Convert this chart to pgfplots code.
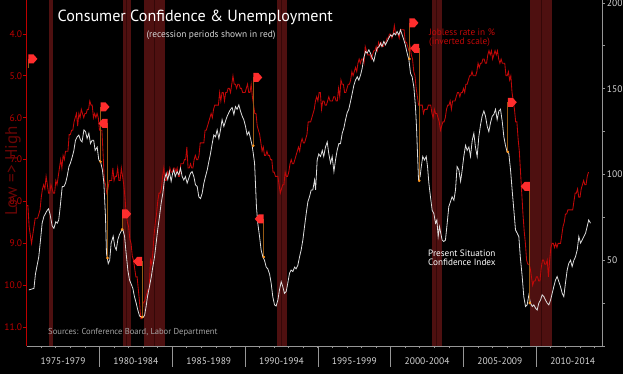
\documentclass[border=0pt]{standalone}
\usepackage{fontspec}
\setmainfont{PT Sans}
\usepackage{pgfplots}
\usepackage{pgfplotstable}
\pgfplotsset{compat=1.18}
\definecolor{linered}{RGB}{195,8,8}
\definecolor{axred}{RGB}{190,0,0}
\definecolor{lblred}{RGB}{105,6,6}
\definecolor{wline}{RGB}{222,222,222}
\definecolor{bandcol}{RGB}{78,16,16}
\definecolor{banddk}{RGB}{52,8,8}
\definecolor{axgray}{RGB}{150,150,150}
\definecolor{tkgray}{RGB}{215,215,215}
\definecolor{flagred}{RGB}{255,45,45}
\definecolor{polecol}{RGB}{150,90,20}
\definecolor{dotor}{RGB}{255,150,30}
\pgfdeclareplotmark{flagR}{\pgfpathmoveto{\pgfqpoint{0pt}{-4.5pt}}\pgfpathlineto{\pgfqpoint{0pt}{4.5pt}}\pgfpathlineto{\pgfqpoint{5pt}{4.5pt}}\pgfpathlineto{\pgfqpoint{9pt}{0pt}}\pgfpathlineto{\pgfqpoint{5pt}{-4.5pt}}\pgfpathclose\pgfusepathqfill}
\pgfdeclareplotmark{flagL}{\pgfpathmoveto{\pgfqpoint{0pt}{-4.5pt}}\pgfpathlineto{\pgfqpoint{0pt}{4.5pt}}\pgfpathlineto{\pgfqpoint{-5pt}{4.5pt}}\pgfpathlineto{\pgfqpoint{-9pt}{0pt}}\pgfpathlineto{\pgfqpoint{-5pt}{-4.5pt}}\pgfpathclose\pgfusepathqfill}

% US unemployment rate, monthly, Jan 1975 - Aug 2013
\pgfplotstableread[row sep=\\,header=false]{
8.1\\8.1\\8.6\\8.8\\9.0\\8.8\\8.6\\8.4\\8.4\\8.4\\8.3\\8.2\\
7.9\\7.7\\7.6\\7.7\\7.4\\7.6\\7.8\\7.8\\7.6\\7.7\\7.8\\7.8\\
7.5\\7.6\\7.4\\7.2\\7.0\\7.2\\6.9\\7.0\\6.8\\6.8\\6.8\\6.4\\
6.4\\6.3\\6.3\\6.1\\6.0\\5.9\\6.2\\5.9\\6.0\\5.8\\5.9\\6.0\\
5.9\\5.9\\5.8\\5.8\\5.6\\5.7\\5.7\\6.0\\5.9\\6.0\\5.9\\6.0\\
6.3\\6.3\\6.3\\6.9\\7.5\\7.6\\7.8\\7.7\\7.5\\7.5\\7.5\\7.2\\
7.5\\7.4\\7.4\\7.2\\7.5\\7.5\\7.2\\7.4\\7.6\\7.9\\8.3\\8.5\\
8.6\\8.9\\9.0\\9.3\\9.4\\9.6\\9.8\\9.8\\10.1\\10.4\\10.8\\10.8\\
10.4\\10.4\\10.3\\10.2\\10.1\\10.1\\9.4\\9.5\\9.2\\8.8\\8.5\\8.3\\
8.0\\7.8\\7.8\\7.7\\7.4\\7.2\\7.5\\7.5\\7.3\\7.4\\7.2\\7.3\\
7.3\\7.2\\7.2\\7.3\\7.2\\7.4\\7.4\\7.1\\7.1\\7.1\\7.0\\7.0\\
6.7\\7.2\\7.2\\7.1\\7.2\\7.2\\7.0\\6.9\\7.0\\7.0\\6.9\\6.6\\
6.6\\6.6\\6.6\\6.3\\6.3\\6.2\\6.1\\6.0\\5.9\\6.0\\5.8\\5.7\\
5.7\\5.7\\5.7\\5.4\\5.6\\5.4\\5.4\\5.6\\5.4\\5.4\\5.3\\5.3\\
5.4\\5.2\\5.0\\5.2\\5.2\\5.3\\5.2\\5.2\\5.3\\5.3\\5.4\\5.4\\
5.4\\5.3\\5.2\\5.4\\5.4\\5.2\\5.5\\5.7\\5.9\\5.9\\6.2\\6.3\\
6.4\\6.6\\6.8\\6.7\\6.9\\6.9\\6.8\\6.9\\6.9\\7.0\\7.0\\7.3\\
7.3\\7.4\\7.4\\7.4\\7.6\\7.8\\7.7\\7.6\\7.6\\7.3\\7.4\\7.4\\
7.3\\7.1\\7.0\\7.1\\7.1\\7.0\\6.9\\6.8\\6.7\\6.8\\6.6\\6.5\\
6.6\\6.6\\6.5\\6.4\\6.1\\6.1\\6.1\\6.0\\5.9\\5.8\\5.6\\5.5\\
5.6\\5.4\\5.4\\5.8\\5.6\\5.6\\5.7\\5.7\\5.6\\5.5\\5.6\\5.6\\
5.6\\5.5\\5.5\\5.6\\5.6\\5.3\\5.5\\5.1\\5.2\\5.2\\5.4\\5.4\\
5.3\\5.2\\5.2\\5.1\\4.9\\5.0\\4.9\\4.8\\4.9\\4.7\\4.6\\4.7\\
4.6\\4.6\\4.7\\4.3\\4.4\\4.5\\4.5\\4.5\\4.6\\4.5\\4.4\\4.4\\
4.3\\4.4\\4.2\\4.3\\4.2\\4.3\\4.3\\4.2\\4.2\\4.1\\4.1\\4.0\\
4.0\\4.1\\4.0\\3.8\\4.0\\4.0\\4.0\\4.1\\3.9\\3.9\\3.9\\3.9\\
4.2\\4.2\\4.3\\4.4\\4.3\\4.5\\4.6\\4.9\\5.0\\5.3\\5.5\\5.7\\
5.7\\5.7\\5.7\\5.9\\5.8\\5.8\\5.8\\5.7\\5.7\\5.7\\5.9\\6.0\\
5.8\\5.9\\5.9\\6.0\\6.1\\6.3\\6.2\\6.1\\6.1\\6.0\\5.8\\5.7\\
5.7\\5.6\\5.8\\5.6\\5.6\\5.6\\5.5\\5.4\\5.4\\5.5\\5.4\\5.4\\
5.3\\5.4\\5.2\\5.2\\5.1\\5.0\\5.0\\4.9\\5.0\\5.0\\5.0\\4.9\\
4.7\\4.8\\4.7\\4.7\\4.6\\4.6\\4.7\\4.7\\4.5\\4.4\\4.5\\4.4\\
4.6\\4.5\\4.4\\4.5\\4.4\\4.6\\4.7\\4.6\\4.7\\4.7\\4.7\\5.0\\
5.0\\4.9\\5.1\\5.0\\5.4\\5.6\\5.8\\6.1\\6.1\\6.5\\6.8\\7.3\\
7.8\\8.3\\8.7\\9.0\\9.4\\9.5\\9.5\\9.6\\9.8\\10.0\\9.9\\9.9\\
9.8\\9.8\\9.9\\9.9\\9.6\\9.4\\9.4\\9.5\\9.5\\9.4\\9.8\\9.4\\
9.1\\9.0\\9.0\\9.1\\9.0\\9.1\\9.0\\9.0\\9.0\\8.8\\8.6\\8.5\\
8.3\\8.3\\8.2\\8.2\\8.2\\8.2\\8.2\\8.0\\7.8\\7.8\\7.7\\7.9\\
7.9\\7.7\\7.6\\7.5\\7.6\\7.6\\7.4\\7.3\\
}\reddata

\begin{document}
\begin{tikzpicture}[x=1pt,y=1pt]
\useasboundingbox (0,0) rectangle (623,374);
\fill[black] (0,0) rectangle (623,374);

% ---------- axis 1: unemployment (left, inverted) ----------
\begin{axis}[
  at={(26.7pt,28pt)}, anchor=south west, scale only axis,
  width=576pt, height=346pt,
  xmin=1975, xmax=2014.56, ymin=3.19, ymax=11.45, y dir=reverse,
  axis x line=none, axis y line=left,
  y axis line style={-, draw=axred, line width=0.8pt},
  ytick={4,5,6,7,8,9,10,11},
  ytick style={draw=axred, line width=0.8pt},
  tick align=outside, major tick length=3.5pt,
  yticklabel style={text=axred, font=\fontsize{9.5}{10}\selectfont, inner sep=1pt},
  /pgf/number format/.cd, fixed, fixed zerofill, precision=1, assume math mode=true,
]
\addplot[fill=bandcol, draw=none, forget plot] coordinates {(1976.53,3.19) (1976.81,3.19) (1976.81,11.45) (1976.53,11.45)} -- cycle;
\addplot[fill=bandcol, draw=none, forget plot] coordinates {(1981.63,3.19) (1982.13,3.19) (1982.13,11.45) (1981.63,11.45)} -- cycle;
\addplot[fill=bandcol, draw=none, forget plot] coordinates {(1983.09,3.19) (1984.47,3.19) (1984.47,11.45) (1983.09,11.45)} -- cycle;
\addplot[fill=bandcol, draw=none, forget plot] coordinates {(1992.16,3.19) (1992.85,3.19) (1992.85,11.45) (1992.16,11.45)} -- cycle;
\addplot[fill=bandcol, draw=none, forget plot] coordinates {(2002.85,3.19) (2003.49,3.19) (2003.49,11.45) (2002.85,11.45)} -- cycle;
\addplot[fill=bandcol, draw=none, forget plot] coordinates {(2009.60,3.19) (2011.09,3.19) (2011.09,11.45) (2009.60,11.45)} -- cycle;
\addplot[banddk, line width=1.2pt, forget plot] coordinates {(1981.88,3.19) (1981.88,11.45)};
\addplot[banddk, line width=1.2pt, forget plot] coordinates {(1983.78,3.19) (1983.78,11.45)};
\addplot[banddk, line width=1.2pt, forget plot] coordinates {(1992.50,3.19) (1992.50,11.45)};
\addplot[banddk, line width=1.2pt, forget plot] coordinates {(2003.17,3.19) (2003.17,11.45)};
\addplot[banddk, line width=1.2pt, forget plot] coordinates {(2010.34,3.19) (2010.34,11.45)};
\addplot[linered, line width=0.85pt] table[x expr=1975+\coordindex/12, y index=0] {\reddata};
\end{axis}

% ---------- axis 2: present situation index (right) ----------
\begin{axis}[
  at={(26.7pt,28pt)}, anchor=south west, scale only axis,
  width=576pt, height=346pt,
  xmin=1975, xmax=2014.56, ymin=0, ymax=201.75,
  axis x line=bottom, axis y line=right,
  axis line style={-, draw=axgray, line width=0.8pt},
  xtick={1976,1977,...,2014}, xticklabels={},
  ytick={50,100,150,200}, minor ytick={0,25,75,125,175},
  tick style={draw=axgray, line width=0.8pt},
  tick align=outside, major tick length=2.5pt, minor tick length=2.5pt,
  yticklabel style={text=tkgray, font=\fontsize{9.5}{10}\selectfont, inner sep=1.5pt},
  /pgf/number format/assume math mode=true,
]
\addplot[wline, line width=0.8pt] coordinates {
(1975.15,32.7) (1975.5,33.6) (1975.6,42) (1975.83,52) (1975.95,62) (1976.06,71.6) (1976.18,75.5) (1976.4,79) (1976.5,80) (1976.6,77) (1976.75,70) (1976.87,68.6)
(1977.0,72.5) (1977.1,71.6) (1977.2,73.5) (1977.3,81) (1977.44,93) (1977.55,93) (1977.67,95) (1977.78,99) (1977.9,104.6)
(1978.0,106.6) (1978.12,110) (1978.24,114) (1978.35,120) (1978.47,122) (1978.58,123) (1978.7,120) (1978.8,119) (1978.93,126)
(1979.04,125) (1979.15,121) (1979.27,124) (1979.38,118) (1979.5,120) (1979.6,120) (1979.7,114) (1979.84,116) (1979.95,108.5)
(1980.07,107.5) (1980.2,102.7) (1980.3,95) (1980.41,75.5) (1980.48,54) (1980.6,48) (1980.7,50) (1980.8,60) (1980.94,64)
(1981.05,58) (1981.15,56) (1981.26,62) (1981.37,65) (1981.49,67) (1981.6,68) (1981.72,64) (1981.83,54) (1981.95,44)
(1982.06,38.5) (1982.2,35.6) (1982.29,33.6) (1982.4,28.8) (1982.52,25) (1982.63,21) (1982.75,17.5) (1982.86,17) (1982.98,16.5)
(1983.1,18) (1983.2,23) (1983.3,29) (1983.43,34.6) (1983.55,40) (1983.66,46) (1983.78,52) (1983.89,60)
(1984.0,68) (1984.12,75.5) (1984.23,83) (1984.35,89) (1984.46,97) (1984.58,100.7) (1984.69,97) (1984.8,101.7) (1984.92,96)
(1985.03,101) (1985.1,102.7) (1985.2,98.8) (1985.33,101.7) (1985.45,99.8) (1985.56,103.7) (1985.68,98.8) (1985.79,96.8) (1985.9,98.8)
(1986.02,95) (1986.13,97.8) (1986.25,100.7) (1986.36,101.7) (1986.48,98.8) (1986.59,94) (1986.71,93) (1986.82,87) (1986.94,86)
(1987.05,89) (1987.17,95) (1987.28,98.8) (1987.4,102.7) (1987.51,107.5) (1987.62,112) (1987.74,118) (1987.85,123) (1987.97,122)
(1988.08,126) (1988.2,121) (1988.31,126) (1988.42,132) (1988.54,128) (1988.65,131) (1988.77,134) (1988.88,136)
(1989.0,138) (1989.11,139) (1989.23,135) (1989.34,139.6) (1989.45,138) (1989.57,140.6) (1989.68,137) (1989.8,134) (1989.91,132)
(1990.03,128) (1990.14,123) (1990.26,125) (1990.37,121) (1990.48,117) (1990.55,113) (1990.65,106.6) (1990.71,95) (1990.78,81) (1990.87,71.6) (1990.99,64)
(1991.1,56) (1991.22,52) (1991.33,50) (1991.45,46) (1991.56,45) (1991.68,42) (1991.79,36.6) (1991.9,28.8)
(1992.02,24) (1992.13,23.3) (1992.25,26.8) (1992.36,32.7) (1992.48,37.5) (1992.59,34.6) (1992.7,30.7) (1992.82,31.7) (1992.93,36.6)
(1993.05,42.4) (1993.16,44.3) (1993.28,43.4) (1993.4,46) (1993.5,45) (1993.62,47) (1993.74,52) (1993.85,56) (1993.97,62)
(1994.08,69.6) (1994.2,77.4) (1994.31,84) (1994.42,87) (1994.54,91) (1994.65,91) (1994.77,96.8) (1994.84,91) (1994.95,108.5)
(1995.06,112) (1995.18,110.5) (1995.3,114) (1995.4,110.5) (1995.52,116) (1995.64,119) (1995.75,112) (1995.87,106.6) (1995.98,110.5)
(1996.1,101.7) (1996.21,108.5) (1996.32,114) (1996.44,118) (1996.55,118) (1996.67,124) (1996.78,127) (1996.9,132)
(1997.01,136) (1997.12,138) (1997.24,142.6) (1997.35,147) (1997.47,152) (1997.58,155) (1997.7,157) (1997.81,155) (1997.93,158)
(1998.04,162) (1998.15,168) (1998.27,171.7) (1998.38,170.7) (1998.5,172.7) (1998.61,170.7) (1998.73,168) (1998.84,166) (1998.96,170.7)
(1999.07,173.7) (1999.2,174.6) (1999.3,176.6) (1999.4,174.6) (1999.53,177.6) (1999.64,175.6) (1999.76,177.6) (1999.87,179.5) (1999.99,181.4)
(2000.1,180.5) (2000.22,182.4) (2000.33,181.4) (2000.44,183.4) (2000.56,181.4) (2000.67,184.3) (2000.79,181.4) (2000.9,178.5)
(2001.0,175.6) (2001.13,170.7) (2001.25,166.9) (2001.36,159) (2001.47,157) (2001.59,151) (2001.7,139.6) (2001.77,128) (2001.84,112.4) (2001.91,97)
(2002.02,98.8) (2002.1,104.6) (2002.2,110.5) (2002.32,108.5) (2002.44,110.5) (2002.53,104.6) (2002.62,95) (2002.73,87) (2002.85,79) (2002.96,77.4)
(2003.08,71.6) (2003.17,73.5) (2003.26,63.8) (2003.35,69.6) (2003.44,65.7) (2003.53,61.8) (2003.65,60.9) (2003.76,61.8) (2003.88,71.6) (2003.99,81.3)
(2004.1,84) (2004.22,87) (2004.34,85) (2004.45,91) (2004.56,104.6) (2004.68,102.7) (2004.8,96) (2004.9,102)
(2005.02,110.5) (2005.14,117) (2005.25,114) (2005.37,116) (2005.48,110.5) (2005.6,120) (2005.71,124) (2005.82,116) (2005.94,110.5)
(2006.05,122) (2006.17,129) (2006.28,134) (2006.4,137) (2006.51,134) (2006.63,128) (2006.74,125) (2006.85,130) (2006.97,134)
(2007.08,135) (2007.2,138) (2007.31,132) (2007.43,137) (2007.54,138) (2007.66,131) (2007.77,122) (2007.88,117)
(2008.0,113) (2008.11,112.4) (2008.23,102.7) (2008.34,91) (2008.46,79) (2008.57,67.7) (2008.69,65.7) (2008.8,63.8) (2008.9,52)
(2009.03,40.5) (2009.14,28.8) (2009.26,23) (2009.37,24) (2009.49,29.8) (2009.6,25) (2009.72,23) (2009.83,24) (2009.95,22)
(2010.06,21) (2010.17,25) (2010.29,26.8) (2010.4,29.8) (2010.52,28.8) (2010.63,26.8) (2010.75,25) (2010.86,24) (2010.98,26.8)
(2011.09,30.7) (2011.2,34.6) (2011.32,38.5) (2011.43,40.5) (2011.55,37.5) (2011.66,34.6) (2011.78,30.7) (2011.89,28.8)
(2012.0,36.6) (2012.12,44.3) (2012.23,48.2) (2012.35,50) (2012.46,46.3) (2012.58,50) (2012.69,52) (2012.81,56) (2012.92,63.8)
(2013.04,60) (2013.15,61.8) (2013.26,63.8) (2013.38,65.7) (2013.49,69.6) (2013.6,73.5) (2013.72,71.6)
};
% annotation flags: poles
\addplot[polecol, line width=0.8pt, forget plot] coordinates {(1975.12,167.4) (1975.12,162.2)};
\addplot[polecol, line width=0.8pt, forget plot] coordinates {(1980.07,139.4) (1980.07,107.4)};
\addplot[polecol, line width=0.8pt, forget plot] coordinates {(1980.55,129.8) (1980.55,51.3)};
\addplot[polecol, line width=0.8pt, forget plot] coordinates {(1981.56,77.0) (1981.56,68)};
\addplot[polecol, line width=0.8pt, forget plot] coordinates {(1982.93,49.3) (1982.93,16.9)};
\addplot[polecol, line width=0.8pt, forget plot] coordinates {(1990.56,156.6) (1990.56,116.7)};
\addplot[polecol, line width=0.8pt, forget plot] coordinates {(1991.28,74.1) (1991.28,51.9)};
\addplot[polecol, line width=0.8pt, forget plot] coordinates {(2001.29,188.4) (2001.29,167.4)};
\addplot[polecol, line width=0.8pt, forget plot] coordinates {(2001.96,173.6) (2001.96,96.3)};
\addplot[polecol, line width=0.8pt, forget plot] coordinates {(2008.04,142.1) (2008.04,113.2)};
\addplot[polecol, line width=0.8pt, forget plot] coordinates {(2009.55,93.1) (2009.55,25.1)};
% end dots
\addplot[only marks, mark=*, mark size=1.1pt, color=dotor, forget plot] coordinates {
(1980.07,107.4) (1980.55,51.3) (1981.56,68) (1982.93,16.9) (1990.56,116.7) (1991.28,51.9) (2001.29,167.4) (2001.96,96.3) (2008.04,113.2) (2009.55,25.1)};
% flags
\addplot[only marks, mark=flagR, color=flagred, forget plot] coordinates {
(1975.12,167.4) (1980.07,139.4) (1981.56,77.0) (1990.56,156.6) (2001.29,188.4) (2008.04,142.1)};
\addplot[only marks, mark=flagL, color=flagred, forget plot] coordinates {
(1980.55,129.8) (1982.93,49.3) (1991.28,74.1) (2001.96,173.6) (2009.55,93.1)};
\end{axis}

% ---------- category separators and labels ----------
\foreach \k in {1,...,7} \draw[axgray, line width=0.8pt] ({26.7+\k*72.8},28) -- ({26.7+\k*72.8},7);
\foreach \lab [count=\k from 0] in {1975-1979,1980-1984,1985-1989,1990-1994,1995-1999,2000-2004,2005-2009,2010-2014}
  \node[text=tkgray, font=\fontsize{9.5}{10}\selectfont, inner sep=0pt] at ({26.7+(\k+0.5)*72.8},13) {\lab};

% ---------- texts ----------
\node[anchor=west, text=white, font=\fontsize{16.1}{17}\selectfont, inner sep=0pt] at (57.5,357) {Consumer Confidence \& Unemployment};
\node[text=tkgray, font=\fontsize{9.4}{10}\selectfont, inner sep=0pt] at (211,339) {(recession periods shown in red)};
\node[anchor=west, text=linered, font=\fontsize{9.3}{10}\selectfont, inner sep=0pt] at (429,342) {Jobless rate in \%};
\node[anchor=west, text=linered, font=\fontsize{9.3}{10}\selectfont, inner sep=0pt] at (429,332) {(inverted scale)};
\node[anchor=west, text=white, font=\fontsize{9.2}{10}\selectfont, inner sep=0pt] at (428,121) {Present Situation};
\node[anchor=west, text=white, font=\fontsize{9.2}{10}\selectfont, inner sep=0pt] at (428,111.5) {Confidence Index};
\node[anchor=west, text={rgb,255:red,165;green,165;blue,165}, font=\fontsize{8.6}{10}\selectfont, inner sep=0pt] at (48,42) {Sources: Conference Board, Labor Department};
\node[rotate=90, text=lblred, font=\fontsize{17}{18}\selectfont, inner sep=0pt] at (13,203) {Low => High};
\end{tikzpicture}
\end{document}
